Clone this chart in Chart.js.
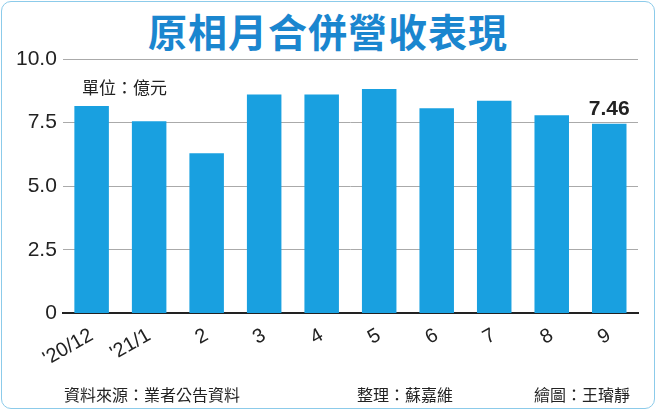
<!DOCTYPE html>
<html><head><meta charset="utf-8">
<script src="https://cdn.jsdelivr.net/npm/chart.js@4"></script>
<style>
body{margin:0;background:#fff;}
#wrap{position:absolute;left:1px;top:1px;width:652px;height:406px;border:1px solid #8ccbea;border-radius:10px;overflow:hidden;background:#fff;}
h1{position:absolute;left:0;width:100%;top:0px;margin:0;text-align:center;font:bold 39px "Noto Sans CJK TC";color:#1a86cf;letter-spacing:1px;}
.t{position:absolute;font:16px "Noto Sans CJK TC";color:#222;}
canvas{position:absolute;left:0;top:0;}
</style></head><body>
<div id="wrap">
<h1>原相月合併營收表現</h1>
<canvas id="c" width="652" height="406"></canvas>
<div class="t" style="left:80px;top:72px;font-size:17px">單位：億元</div>
<div class="t" style="left:62px;top:380px">資料來源：業者公告資料</div>
<div class="t" style="left:355px;top:380px">整理：蘇嘉維</div>
<div class="t" style="left:532px;top:380px">繪圖：王璿靜</div>
</div>
<script>
const categories = ["'20/12", "'21/1", "2", "3", "4", "5", "6", "7", "8", "9"];
const revenue = [8.15, 7.55, 6.3, 8.6, 8.6, 8.82, 8.06, 8.36, 7.79, 7.46];
const yTicks = [0, 2.5, 5.0, 7.5, 10.0];

new Chart(document.getElementById('c'), {
  type: 'bar',
  data: { labels: categories, datasets: [{ data: revenue, backgroundColor: '#19a0e0', barPercentage: 0.6, categoryPercentage: 1 }] },
  options: {
    responsive: false, animation: false,
    layout: { padding: { top: 57, right: 16, bottom: 35, left: 8 } },
    plugins: { legend: { display: false }, tooltip: { enabled: false } },
    scales: {
      x: { grid: { display: false }, border: { color: '#222', width: 2 },
           ticks: { color: '#222', font: { size: 20, family: 'Liberation Sans' }, padding: 2 } },
      y: { min: 0, max: 10, afterBuildTicks: a => { a.ticks = yTicks.map(v => ({ value: v })); },
           border: { display: false },
           grid: { color: '#aaa', borderDash: [5, 4], drawTicks: false },
           ticks: { color: '#222', font: { size: 21, family: 'Liberation Sans' }, padding: 6,
                    callback: v => v === 0 ? '0' : v.toFixed(1) } }
    }
  },
  plugins: [{
    afterDatasetsDraw(chart) {
      const ctx = chart.ctx, m = chart.getDatasetMeta(0).data, i = revenue.length - 1;
      ctx.save(); ctx.font = 'bold 21px "Liberation Sans"'; ctx.fillStyle = '#222'; ctx.textAlign = 'center';
      ctx.fillText(revenue[i].toFixed(2), m[i].x, m[i].y - 9); ctx.restore();
    }
  }]
});
</script>
</body></html>
